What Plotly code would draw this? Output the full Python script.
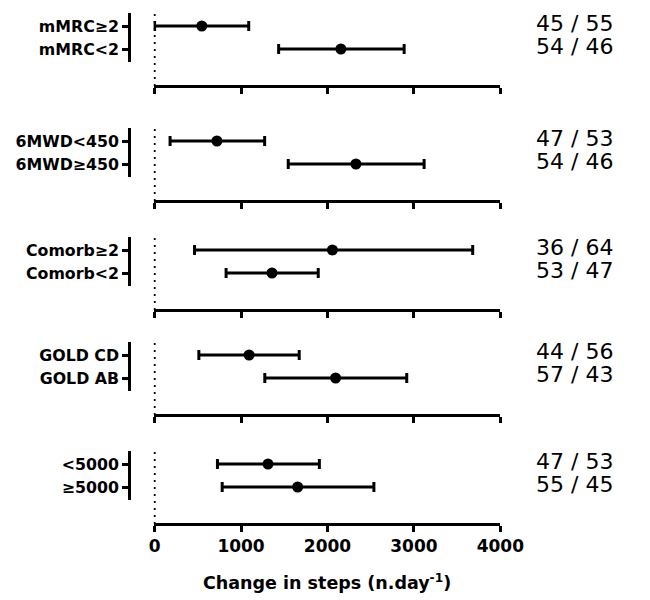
import plotly.graph_objects as go

# ---- data (top row first within each panel) ----
labels = [["mMRC≥2", "mMRC<2"],
          ["6MWD<450", "6MWD≥450"],
          ["Comorb≥2", "Comorb<2"],
          ["GOLD CD", "GOLD AB"],
          ["<5000", "≥5000"]]
means = [[546, 2155], [721, 2329], [2057, 1358], [1093, 2094], [1312, 1655]]
lower = [[0, 1435], [179, 1546], [462, 827], [512, 1275], [727, 782]]
upper = [[1089, 2887], [1273, 3118], [3680, 1893], [1673, 2917], [1906, 2537]]
ratios = [["45 / 55", "54 / 46"], ["47 / 53", "54 / 46"], ["36 / 64", "53 / 47"],
          ["44 / 56", "57 / 43"], ["47 / 53", "55 / 45"]]
xticks = [0, 1000, 2000, 3000, 4000]
xtitle = "Change in steps (n.day<sup>-1</sup>)"

W, H = 650, 600
axis_px = [86, 201, 310, 415, 524]   # pixel row of each panel's x-axis line
row_vals = [2, 1]

fig = go.Figure()
layout = dict(width=W, height=H, margin=dict(l=0, r=0, t=0, b=0),
              plot_bgcolor="white", paper_bgcolor="white", showlegend=False)
annotations = []
shapes = []
bold = dict(family="DejaVu Sans", size=15.8, color="black", weight="bold")

for i in range(5):
    n = "" if i == 0 else str(i + 1)
    A = axis_px[i]
    em = [m - lo for m, lo in zip(means[i], lower[i])]
    ep = [up - m for m, up in zip(means[i], upper[i])]
    fig.add_trace(go.Scatter(
        x=means[i], y=row_vals, mode="markers", xaxis="x" + n, yaxis="y" + n,
        marker=dict(color="black", size=11, symbol="circle"),
        error_x=dict(type="data", symmetric=False, array=ep, arrayminus=em,
                     color="black", thickness=3, width=5),
        cliponaxis=False, hoverinfo="skip"))
    layout["xaxis" + n] = dict(
        domain=[155.5 / W, 518.5 / W], range=[-12, 4000], anchor="free",
        position=1 - A / H, showline=True, linewidth=3, linecolor="black",
        ticks="outside", ticklen=6, tickwidth=3, tickcolor="black",
        tickvals=xticks, showticklabels=(i == 4), showgrid=False, zeroline=False,
        tickfont=dict(family="DejaVu Sans", size=17, color="black", weight="bold"))
    layout["yaxis" + n] = dict(
        domain=[1 - (A - 24) / H, 1 - (A - 73) / H], range=[0.435, 2.565],
        anchor="free", position=130 / W, showline=True, linewidth=3,
        linecolor="black", ticks="outside", ticklen=6, tickwidth=3,
        tickcolor="black", tickvals=row_vals, ticktext=labels[i],
        showgrid=False, zeroline=False, tickfont=bold)
    shapes.append(dict(type="line", xref="x" + n, yref="paper", x0=0, x1=0,
                       y0=1 - A / H, y1=1 - (A - 75) / H,
                       line=dict(color="black", width=2, dash="2px,5px")))
    for r, t in zip(row_vals, ratios[i]):
        annotations.append(dict(text=t, xref="paper", x=596 / W, yref="y" + n,
                                y=r, yshift=3, showarrow=False,
                                xanchor="center", yanchor="middle",
                                font=dict(family="DejaVu Sans", size=22,
                                          color="black")))

annotations.append(dict(text=xtitle, xref="paper", yref="paper", x=337 / W,
                        y=1 - 582 / H, showarrow=False, xanchor="center",
                        yanchor="middle",
                        font=dict(family="DejaVu Sans", size=17.5, color="black",
                                  weight="bold")))
layout["annotations"] = annotations
layout["shapes"] = shapes
fig.update_layout(**layout)
fig.write_html("out.html", config={"displayModeBar": False},
               post_script="document.body.style.margin='0';"
                           "document.body.style.overflow='hidden';")
